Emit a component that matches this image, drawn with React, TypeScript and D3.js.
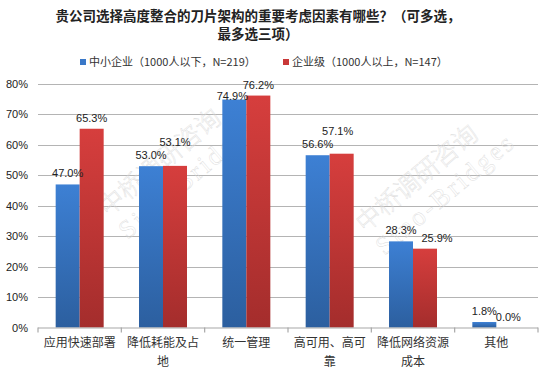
import { useEffect, useRef } from "react";
import * as d3 from "d3";

const categories = [
  "应用快速部署",
  "降低耗能及占地",
  "统一管理",
  "高可用、高可靠",
  "降低网络资源成本",
  "其他",
];
const smallBiz = [0.47, 0.53, 0.749, 0.566, 0.283, 0.018];
const enterprise = [0.653, 0.531, 0.762, 0.571, 0.259, 0.0];
const seriesNames = ["中小企业（1000人以下，N=219）", "企业级（1000人以上，N=147）"];
const yTicks = [0, 0.1, 0.2, 0.3, 0.4, 0.5, 0.6, 0.7, 0.8];

// manual nudges for a few value labels (excel moved them to avoid overlap)
const labelNudge: Record<string, [number, number]> = {
  "0-2": [-2, 7],
  "1-1": [0, -13],
  "1-3": [-4, -12],
  "1-4": [12, 0],
};

const W = 550;
const H = 369;
const FONT = "'Noto Sans CJK SC', 'Noto Sans', sans-serif";
const NUMFONT = "'Liberation Sans', Arial, sans-serif";

function wrapCN(s: string, n: number) {
  const out: string[] = [];
  for (let i = 0; i < s.length; i += n) out.push(s.slice(i, i + n));
  return out;
}

export default function App() {
  const svgRef = useRef<SVGSVGElement>(null);

  useEffect(() => {
    const el = svgRef.current;
    if (!el) return;
    const root = d3.select(el);
    root.selectAll("*").remove();

    const m = { left: 38, right: 12, top: 84, bottom: 41.5 };
    const x0 = d3
      .scaleBand<string>()
      .domain(categories)
      .range([m.left, W - m.right])
      .paddingInner(0)
      .paddingOuter(0);
    const barW = 24;
    const y = d3.scaleLinear().domain([0, 0.8]).range([H - m.bottom, m.top]);

    const defs = root.append("defs");
    const grad = (id: string, top: string, bot: string) => {
      const g = defs
        .append("linearGradient")
        .attr("id", id)
        .attr("x1", 0)
        .attr("y1", 0)
        .attr("x2", 0)
        .attr("y2", 1);
      g.append("stop").attr("offset", "0%").attr("stop-color", top);
      g.append("stop").attr("offset", "100%").attr("stop-color", bot);
    };
    grad("gBlue", "#3d80d4", "#2c5f9f");
    grad("gRed", "#d63e3d", "#a42d2c");

    // Title
    const titleLines = ["贵公司选择高度整合的刀片架构的重要考虑因素有哪些？（可多选，", "最多选三项）"];
    titleLines.forEach((t, i) => {
      root
        .append("text")
        .attr("x", 258)
        .attr("y", 21 + i * 18)
        .attr("text-anchor", "middle")
        .attr("fill", "#222")
        .style("font-family", FONT)
        .style("font-size", "13.5px")
        .style("font-weight", "bold")
        .text(t);
    });

    // Legend
    const legX = [80, 283];
    const legCol = ["#3a78c8", "#c93838"];
    seriesNames.forEach((n, i) => {
      root
        .append("rect")
        .attr("x", legX[i])
        .attr("y", 59)
        .attr("width", 6)
        .attr("height", 6)
        .attr("fill", legCol[i]);
      root
        .append("text")
        .attr("x", legX[i] + 9)
        .attr("y", 66)
        .attr("fill", "#333")
        .style("font-family", FONT)
        .style("font-size", "11px")
        .text(n);
    });

    // Gridlines
    root
      .selectAll(".grid")
      .data(yTicks.slice(1))
      .enter()
      .append("line")
      .attr("x1", m.left)
      .attr("x2", W - m.right)
      .attr("y1", (d) => Math.round(y(d)) + 0.5)
      .attr("y2", (d) => Math.round(y(d)) + 0.5)
      .attr("stroke", "#b4b4b4")
      .attr("stroke-width", 1.2);

    // Y labels
    root
      .selectAll(".ylab")
      .data(yTicks)
      .enter()
      .append("text")
      .attr("x", 28)
      .attr("y", (d) => y(d) + 4)
      .attr("text-anchor", "end")
      .attr("fill", "#222")
      .style("font-family", NUMFONT)
      .style("font-size", "11px")
      .text((d) => d3.format(".0%")(d));

    // Watermark
    const wm = [
      { cx: 168, cy: 172 },
      { cx: 425, cy: 188 },
    ];
    wm.forEach((p) => {
      const g = root
        .append("g")
        .attr("transform", `translate(${p.cx},${p.cy}) rotate(-40)`)
        .attr("fill", "none")
        .attr("stroke", "#dadada")
        .attr("stroke-width", 0.4);
      g.append("text")
        .attr("x", 0)
        .attr("y", -4)
        .attr("text-anchor", "middle")
        .style("font-family", FONT)
        .style("font-size", "25px")
        .style("font-weight", 300)
        .text("中桥调研咨询");
      g.append("text")
        .attr("x", 12)
        .attr("y", 26)
        .attr("text-anchor", "middle")
        .style("font-family", "'Liberation Serif', 'DejaVu Serif', serif")
        .style("font-size", "26px")
        .style("letter-spacing", "3px")
        .text("Sino-Bridges");
    });

    // Bars
    const series = [
      { vals: smallBiz, fill: "url(#gBlue)", off: -barW },
      { vals: enterprise, fill: "url(#gRed)", off: 0 },
    ];
    series.forEach((s) => {
      categories.forEach((c, i) => {
        const cx = (x0(c) as number) + x0.bandwidth() / 2;
        const v = s.vals[i];
        if (v > 0) {
          root
            .append("rect")
            .attr("x", cx + s.off)
            .attr("y", y(v))
            .attr("width", barW)
            .attr("height", y(0) - y(v))
            .attr("fill", s.fill);
        }
      });
    });

    // X axis
    root
      .append("line")
      .attr("x1", m.left)
      .attr("x2", W - m.right)
      .attr("y1", y(0) + 0.5)
      .attr("y2", y(0) + 0.5)
      .attr("stroke", "#a8a8a8")
      .attr("stroke-width", 1.2);
    const bounds = categories.map((c) => x0(c) as number).concat([W - m.right]);
    root
      .selectAll(".xt")
      .data(bounds)
      .enter()
      .append("line")
      .attr("x1", (d) => d)
      .attr("x2", (d) => d)
      .attr("y1", y(0))
      .attr("y2", y(0) + 5)
      .attr("stroke", "#a8a8a8")
      .attr("stroke-width", 1.2);

    // Category labels
    categories.forEach((c) => {
      const cx = (x0(c) as number) + x0.bandwidth() / 2;
      wrapCN(c, 6).forEach((ln, li) => {
        root
          .append("text")
          .attr("x", cx)
          .attr("y", 347 + li * 19)
          .attr("text-anchor", "middle")
          .attr("fill", "#333")
          .style("font-family", FONT)
          .style("font-size", "12px")
          .text(ln);
      });
    });

    // Value labels
    series.forEach((s, si) => {
      categories.forEach((c, i) => {
        const cx = (x0(c) as number) + x0.bandwidth() / 2 + s.off + barW / 2;
        const v = s.vals[i];
        const nd = labelNudge[`${si}-${i}`] || [0, 0];
        root
          .append("text")
          .attr("x", cx + nd[0])
          .attr("y", y(v) - 7 + nd[1])
          .attr("text-anchor", "middle")
          .attr("fill", "#222")
          .style("font-family", NUMFONT)
          .style("font-size", "11px")
          .text(d3.format(".1%")(v));
      });
    });
  }, []);

  return (
    <svg
      ref={svgRef}
      width={W}
      height={H}
      style={{ position: "absolute", left: 0, top: 0, background: "#fff" }}
    />
  );
}
